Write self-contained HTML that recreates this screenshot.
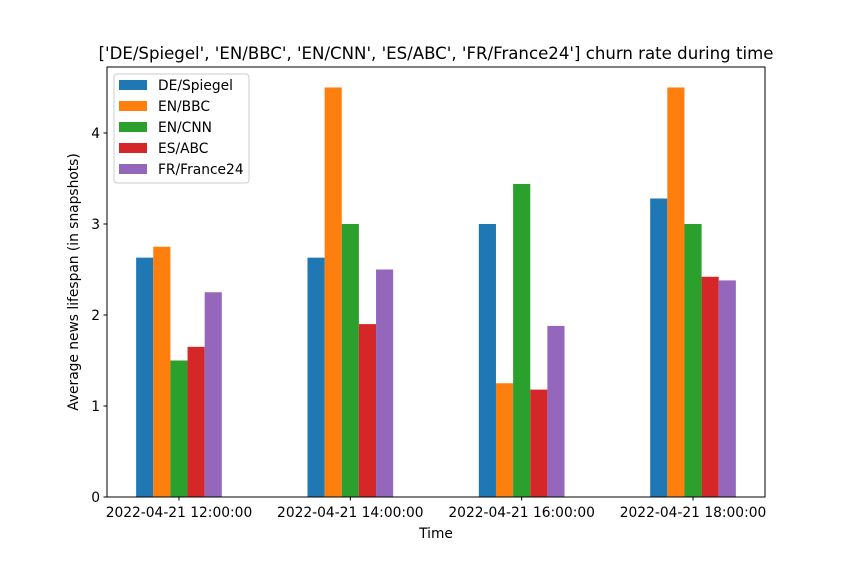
<!DOCTYPE html>
<html><head><meta charset="utf-8"><style>
body{margin:0;background:#fff;}
text{font-family:"DejaVu Sans","Liberation Sans",sans-serif;}
</style></head><body>
<svg id="chart" width="850" height="559" xmlns="http://www.w3.org/2000/svg"></svg>
<script>
const categories=["2022-04-21 12:00:00","2022-04-21 14:00:00","2022-04-21 16:00:00","2022-04-21 18:00:00"];
const seriesNames=["DE/Spiegel","EN/BBC","EN/CNN","ES/ABC","FR/France24"];
const deSpiegel=[2.63,2.63,3.0,3.28];
const enBBC=[2.75,4.5,1.25,4.5];
const enCNN=[1.5,3.0,3.44,3.0];
const esABC=[1.65,1.9,1.18,2.42];
const frFrance24=[2.25,2.5,1.88,2.38];
const yTicks=[0,1,2,3,4];
const colors=["#1f77b4","#ff7f0e","#2ca02c","#d62728","#9467bd"];
const series=[deSpiegel,enBBC,enCNN,esABC,frFrance24];

const L=107,R=765,T=67,B=497;
const xMin=-0.42,xMax=3.42,yMin=0,yMax=4.725;
const xs=v=>L+(v-xMin)/(xMax-xMin)*(R-L);
const ys=v=>B-(v-yMin)/(yMax-yMin)*(B-T);
const NS="http://www.w3.org/2000/svg";
const svg=document.getElementById('chart');
function mk(tag,attrs,txt){const e=document.createElementNS(NS,tag);for(const k in attrs)e.setAttribute(k,attrs[k]);if(txt!==undefined)e.textContent=txt;svg.appendChild(e);return e;}

const bw=0.1;
series.forEach((s,si)=>{
  s.forEach((v,ci)=>{
    const x0=xs(ci+(si-2)*bw-bw/2), x1=xs(ci+(si-2)*bw+bw/2);
    const r=mk('rect',{x:x0,y:ys(v),width:x1-x0,height:ys(0)-ys(v),fill:colors[si]});
    
    
  });
});
const frame=mk('rect',{x:L,y:T,width:R-L,height:B-T,fill:'none',stroke:'#000','stroke-width':1});


yTicks.forEach(t=>{
  const y=ys(t);
  mk('line',{x1:L-3.5,x2:L,y1:y,y2:y,stroke:'#000'});
  const tx=mk('text',{x:L-7,y:y+5,'font-size':13.8,'text-anchor':'end'},String(t));
  
  
});
categories.forEach((c,i)=>{
  const x=xs(i);
  mk('line',{x1:x,x2:x,y1:B,y2:B+3.5,stroke:'#000'});
  const tx=mk('text',{x:x,y:B+20,'font-size':13.8,'text-anchor':'middle'},c);
  
  
});
const xt=mk('text',{x:(L+R)/2,y:538,'font-size':13.8,'text-anchor':'middle'},'Time');


const yt=mk('text',{x:0,y:0,'font-size':13.8,'text-anchor':'middle',transform:`translate(78,${(T+B)/2}) rotate(-90)`},'Average news lifespan (in snapshots)');


const ti=mk('text',{x:(L+R)/2,y:59,'font-size':16.6,'text-anchor':'middle'},"['DE/Spiegel', 'EN/BBC', 'EN/CNN', 'ES/ABC', 'FR/France24'] churn rate during time");


const lg=mk('rect',{x:114,y:74,width:135,height:109,fill:'#fff',stroke:'#ccc',rx:3});


seriesNames.forEach((n,i)=>{
  const y=80+i*21;
  const sw=mk('rect',{x:119,y:y,width:28,height:10,fill:colors[i]});
  
  
  const t=mk('text',{x:158,y:y+10,'font-size':13.8},n);
  
  
});
</script>
</body></html>
